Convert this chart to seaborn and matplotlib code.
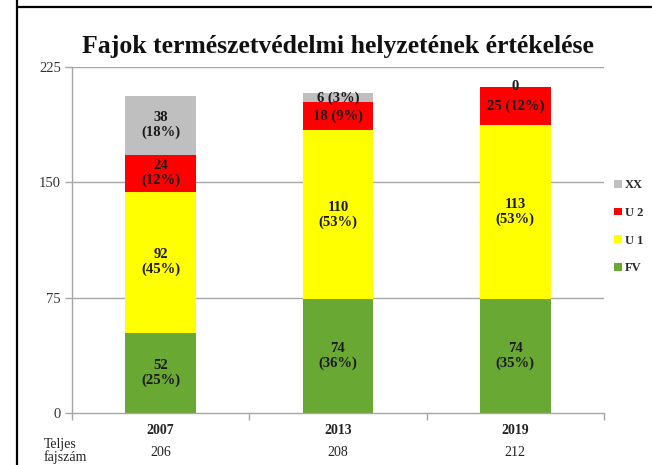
import numpy as np
import pandas as pd
import matplotlib
matplotlib.use("Agg")
import matplotlib.pyplot as plt
from matplotlib.lines import Line2D
import seaborn as sns

# ---- data ----
years = ["2007", "2013", "2019"]
series = ["FV", "U1", "U2", "XX"]
fv = [52, 74, 74]
u1 = [92, 110, 113]
u2 = [24, 18, 25]
xx = [38, 6, 0]
totals = [206, 208, 212]
colors = {"FV": "#6aa834", "U1": "#ffff00", "U2": "#ff0000", "XX": "#bfbfbf"}
# label separator between count and percentage (line break or space)
seps = {"FV": ["\n", "\n", "\n"], "U1": ["\n", "\n", "\n"],
        "U2": ["\n", " ", " "], "XX": ["\n", " ", None]}
legend_labels = {"FV": "FV", "U1": "U 1", "U2": "U 2", "XX": "XX"}
yticks = [0, 75, 150, 225]

sns.set_theme(style="white")
plt.rcParams["font.family"] = ["Liberation Serif", "DejaVu Serif"]

vals = {"FV": fv, "U1": u1, "U2": u2, "XX": xx}
df = pd.DataFrame({"year": years, **vals})
cum = df[series].cumsum(axis=1)

fig = plt.figure(figsize=(6.52, 4.65), dpi=100)
ax = fig.add_axes([0.1104, 0.1118, 0.9264 - 0.1104, 0.8559 - 0.1118])

ax.set_axisbelow(True)
for yv in yticks[1:]:
    ax.axhline(yv, color="#a6a6a6", lw=1.0, zorder=0)

handles = {}
for s in reversed(series):
    d = pd.DataFrame({"year": years, "v": cum[s].values})
    sns.barplot(data=d, x="year", y="v", color=colors[s], width=0.40,
                saturation=1, ax=ax, zorder=2, linewidth=0)
    handles[s] = ax.patches[-1]

# segment labels
for i, yr in enumerate(years):
    base = 0
    for s in series:
        v = vals[s][i]
        pct = round(v / totals[i] * 100)
        sep = seps[s][i]
        txt = f"{v}" if sep is None else f"{v}{sep}({pct}%)"
        ax.text(i, base + v / 2, txt, ha="center", va="center",
                fontsize=10.5, fontweight="bold", color="#1a1a1a",
                linespacing=1.15, zorder=5)
        base += v

ax.set_ylim(0, 225)
ax.set_xlim(-0.5, 2.5)
ax.set_yticks(yticks)
ax.set_yticklabels([str(t) for t in yticks], fontsize=10.5, color="#333333")
ax.tick_params(axis="y", length=5, width=1, color="#a6a6a6", pad=3, left=True)
ax.set_xticks(range(3))
ax.set_xticklabels(years, fontsize=10, fontweight="bold", color="#222222")
ax.tick_params(axis="x", length=0, pad=8)
ax.set_xticks([-0.5, 0.5, 1.5, 2.5], minor=True)
ax.tick_params(axis="x", which="minor", length=5, width=1, color="#a6a6a6", bottom=True)
ax.set_xlabel("")
ax.set_ylabel("")
for sp in ["top", "right"]:
    ax.spines[sp].set_visible(False)
for sp in ["left", "bottom"]:
    ax.spines[sp].set_color("#a6a6a6")
    ax.spines[sp].set_linewidth(1)

# totals row
for i, t in enumerate(totals):
    ax.text(i, -0.114, str(t), transform=ax.get_xaxis_transform(),
            ha="center", va="center", fontsize=10, color="#222222")
fig.text(44 / 652, 1 - 451 / 465, "Teljes\nfajszám", ha="left", va="center",
         fontsize=10, color="#222222", linespacing=1.0)

fig.suptitle("Fajok természetvédelmi helyzetének értékelése", x=0.518,
             y=1 - 47 / 465, va="center", fontsize=18.5, fontweight="bold",
             color="#111111")

leg = fig.legend([handles[s] for s in reversed(series)],
                 [legend_labels[s] for s in reversed(series)],
                 loc="upper left", bbox_to_anchor=(603 / 652, 1 - 168 / 465),
                 frameon=False, handlelength=0.6, handleheight=0.6,
                 handletextpad=0.25, labelspacing=1.25,
                 prop={"family": "Liberation Serif", "weight": "bold", "size": 9})

# frame lines of the surrounding cell
fig.add_artist(Line2D([16.5 / 652, 16.5 / 652], [0, 1], color="black", lw=1.6,
                      transform=fig.transFigure))
fig.add_artist(Line2D([16.5 / 652, 1], [1 - 7 / 465, 1 - 7 / 465], color="black",
                      lw=1.6, transform=fig.transFigure))

fig.savefig("out.png", dpi=100)
